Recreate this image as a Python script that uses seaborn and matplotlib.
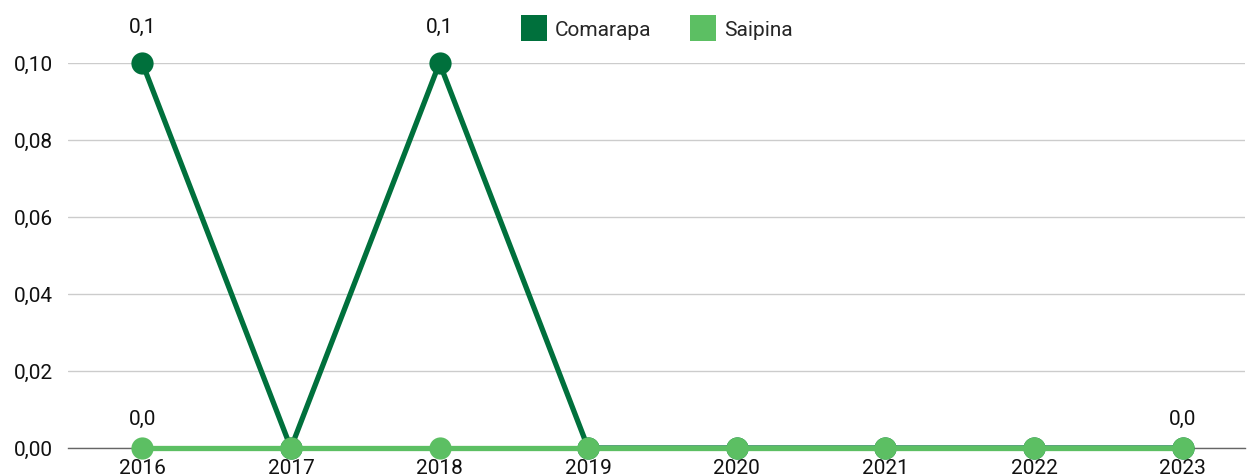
import matplotlib
matplotlib.use("Agg")
import matplotlib.pyplot as plt
import seaborn as sns
import pandas as pd
from matplotlib.lines import Line2D

years = [2016, 2017, 2018, 2019, 2020, 2021, 2022, 2023]
comarapa = [0.1, 0.0, 0.1, 0.0, 0.0, 0.0, 0.0, 0.0]
saipina = [0.0, 0.0, 0.0, 0.0, 0.0, 0.0, 0.0, 0.0]
series_names = ["Comarapa", "Saipina"]
colors = ["#00703C", "#5CBF63"]
yticks = [0.0, 0.02, 0.04, 0.06, 0.08, 0.10]
# data labels shown: (series, year index)
labels_shown = {"Comarapa": [0, 2], "Saipina": [0, 7]}
label_offsets = {"Comarapa": 19, "Saipina": 14}

sns.set_theme(style="white")
plt.rcParams['font.family'] = ['Roboto', 'DejaVu Sans']

df = pd.DataFrame({
    "year": years * 2,
    "value": comarapa + saipina,
    "series": [series_names[0]] * len(years) + [series_names[1]] * len(years),
})

FS = 15
fig = plt.figure(figsize=(12.47, 4.75), dpi=100)
ax = fig.add_axes([68/1247, 1 - 448/475, (1245-68)/1247, (448-63)/475])

for name, col in zip(series_names, colors):
    sub = df[df.series == name]
    sns.lineplot(data=sub, x="year", y="value", ax=ax, color=col, lw=3.8,
                 marker="o", markersize=16, markeredgewidth=0, clip_on=False,
                 legend=False, zorder=3)

ax.set_xlim(2015.5, 2023.42)
ax.set_ylim(0, 0.10)
ax.set_yticks(yticks)
ax.set_yticklabels([f"{v:.2f}".replace(".", ",") for v in yticks], fontsize=FS, color="#111111")
ax.set_xticks(years)
ax.set_xticklabels([str(y) for y in years], fontsize=FS, color="#111111")
ax.tick_params(axis="x", length=0, pad=8)
ax.tick_params(axis="y", length=0, pad=11)
ax.grid(axis="y", color="#cccccc", lw=1)
ax.set_axisbelow(True)
for s in ["top", "right", "left"]:
    ax.spines[s].set_visible(False)
ax.spines["bottom"].set_color("#666666")
ax.spines["bottom"].set_linewidth(1)
ax.set_xlabel("")
ax.set_ylabel("")

vals = {"Comarapa": comarapa, "Saipina": saipina}
for name, idxs in labels_shown.items():
    for i in idxs:
        v = vals[name][i]
        ax.annotate(f"{v:.1f}".replace(".", ","), (years[i], v), xytext=(0, label_offsets[name]),
                    textcoords="offset points", ha="center", va="bottom",
                    fontsize=FS, color="#111111", annotation_clip=False)

handles = [Line2D([], [], ls="none", marker="s", markersize=19, color=c, markeredgewidth=0) for c in colors]
fig.legend(handles, series_names, loc="center", bbox_to_anchor=(658/1247, 1 - 30/475),
           ncol=2, frameon=False, fontsize=FS, handlelength=1.0, handletextpad=0.5,
           columnspacing=2.0)

fig.savefig("out.png", dpi=100)
